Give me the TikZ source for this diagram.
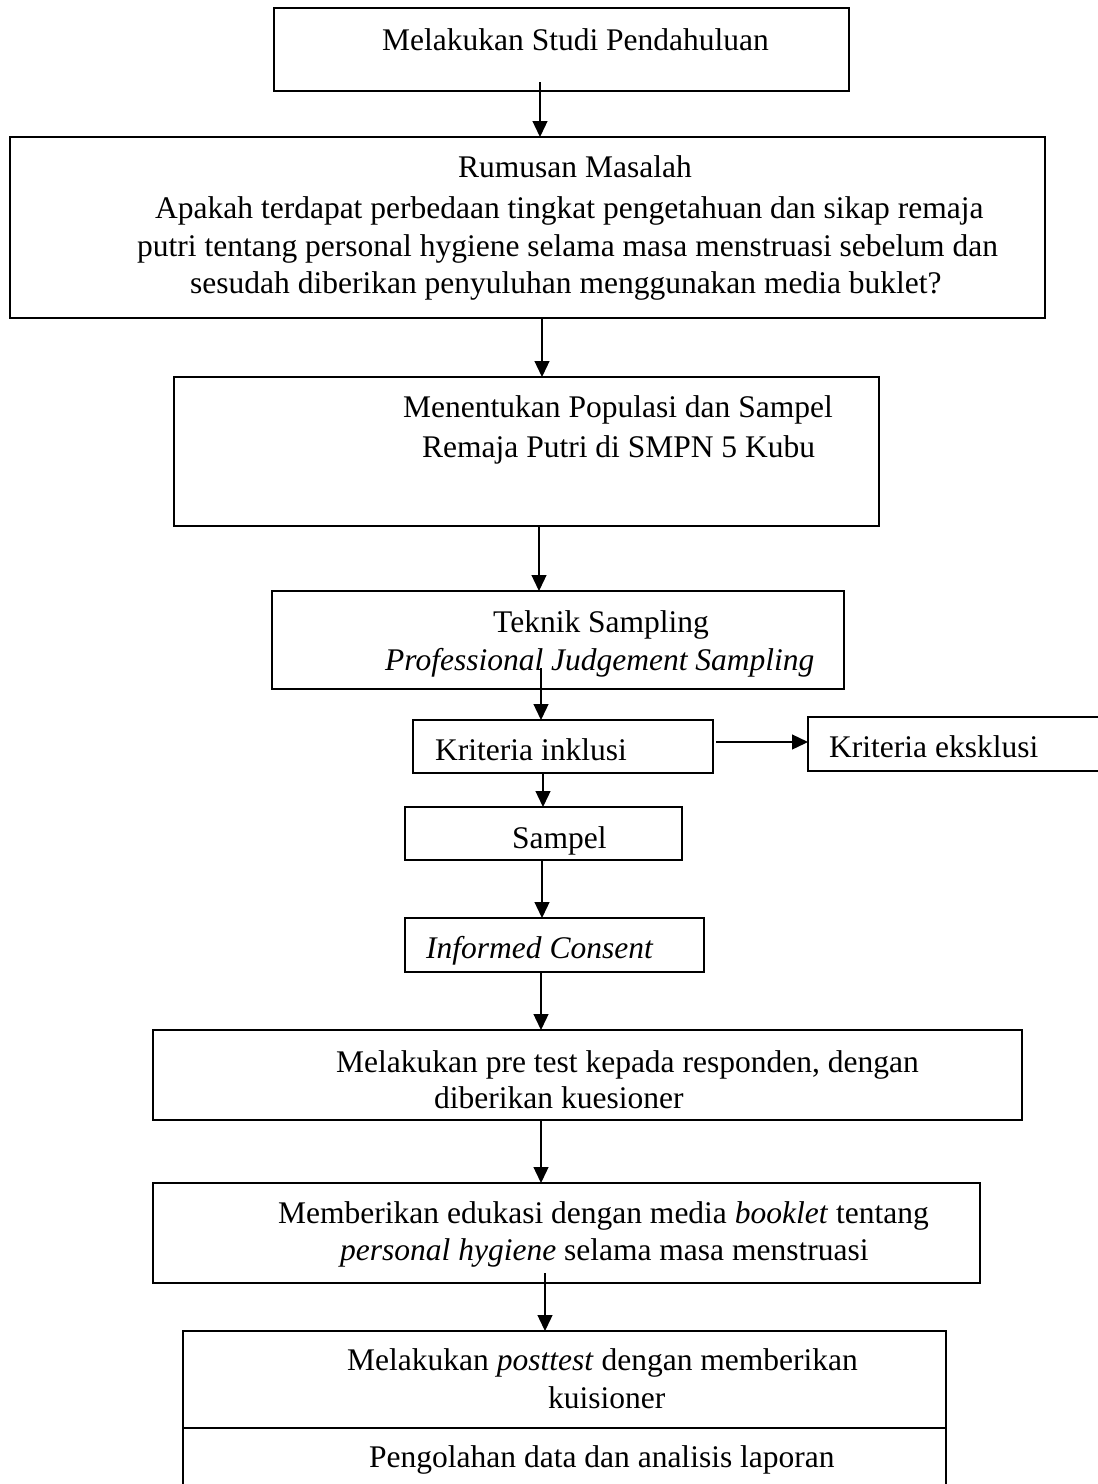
\documentclass[tikz,border=0pt]{standalone}
\usepackage{fontspec}
\setmainfont{Liberation Serif}
\usetikzlibrary{arrows.meta}
\begin{document}
\begin{tikzpicture}[x=1pt,y=-1pt,
  box/.style={draw, line width=1.8pt, anchor=north west, inner sep=0pt, outer sep=0pt},
  txt/.style={anchor=base west, inner sep=0pt, font=\fontsize{31.5}{39}\selectfont},
  itxt/.style={txt, font=\fontsize{31.5}{39}\selectfont\itshape},
  conn/.style={line width=1.3pt, -{Triangle[length=16pt,width=15pt]}}]
\clip (0,0) rectangle (1098,1484);
\fill[white] (0,0) rectangle (1098,1484);
% boxes
\node[box, minimum width=575pt, minimum height=83pt] (b1) at (274,8) {};
\node[box, minimum width=1035pt, minimum height=181pt] (b2) at (10,137) {};
\node[box, minimum width=705pt, minimum height=149pt] (b3) at (174,377) {};
\node[box, minimum width=572pt, minimum height=98pt] (b4) at (272,591) {};
\node[box, minimum width=300pt, minimum height=53pt] (b5) at (413,720) {};
\node[box, minimum width=320pt, minimum height=54pt] (b6) at (808,717) {};
\node[box, minimum width=277pt, minimum height=53pt] (b7) at (405,807) {};
\node[box, minimum width=299pt, minimum height=54pt] (b8) at (405,918) {};
\node[box, minimum width=869pt, minimum height=90pt] (b9) at (153,1030) {};
\node[box, minimum width=827pt, minimum height=100pt] (b10) at (153,1183) {};
\node[box, minimum width=763pt, minimum height=97pt] (b11) at (183,1331) {};
\node[box, minimum width=763pt, minimum height=80pt] (b12) at (183,1428) {};
% texts
\node[txt] (t1) at (382,50) {Melakukan Studi Pendahuluan};
\node[txt] (t2a) at (458,177) {Rumusan Masalah};
\node[txt] (t2b) at (155,218) {Apakah terdapat perbedaan tingkat pengetahuan dan sikap remaja};
\node[txt] (t2c) at (137,256) {putri tentang personal hygiene selama masa menstruasi sebelum dan};
\node[txt] (t2d) at (190,293) {sesudah diberikan penyuluhan menggunakan media buklet?};
\node[txt] (t3a) at (403,417) {Menentukan Populasi dan Sampel};
\node[txt] (t3b) at (422,457) {Remaja Putri di SMPN 5 Kubu};
\node[txt] (t4a) at (493,632) {Teknik Sampling};
\node[itxt] (t4b) at (385,670) {Professional Judgement Sampling};
\node[txt] (t5) at (435,760) {Kriteria inklusi};
\node[txt] (t6) at (829,757) {Kriteria eksklusi};
\node[txt] (t7) at (512,848) {Sampel};
\node[itxt] (t8) at (426,958) {Informed Consent};
\node[txt] (t9a) at (336,1072) {Melakukan pre test kepada responden, dengan};
\node[txt] (t9b) at (434,1108) {diberikan kuesioner};
\node[txt] (t10a) at (278,1223) {Memberikan edukasi dengan media \textit{booklet} tentang};
\node[txt] (t10b) at (340,1260) {\textit{personal hygiene} selama masa menstruasi};
\node[txt] (t11a) at (347,1370) {Melakukan \textit{posttest} dengan memberikan};
\node[txt] (t11b) at (548,1408) {kuisioner};
\node[txt] (t12) at (369,1467) {Pengolahan data dan analisis laporan};
% connectors
\coordinate (s1) at (540,82);
\coordinate (s4) at (541,668);
\coordinate (s10) at (545,1273);
\draw[conn] (s1) -- (s1 |- b2.north);
\draw[conn] (542,318) coordinate (s2) -- (s2 |- b3.north);
\draw[conn] (539,526) coordinate (s3) -- (s3 |- b4.north);
\draw[conn] (s4) -- (s4 |- b5.north);
\draw[conn] (b5.east |- 0,742) ++(3,0) coordinate (s5) -- (s5 -| b6.west);
\draw[conn] (543,773) coordinate (s6) -- (s6 |- b7.north);
\draw[conn] (542,860) coordinate (s7) -- (s7 |- b8.north);
\draw[conn] (541,972) coordinate (s8) -- (s8 |- b9.north);
\draw[conn] (541,1120) coordinate (s9) -- (s9 |- b10.north);
\draw[conn] (s10) -- (s10 |- b11.north);
\end{tikzpicture}
\end{document}
